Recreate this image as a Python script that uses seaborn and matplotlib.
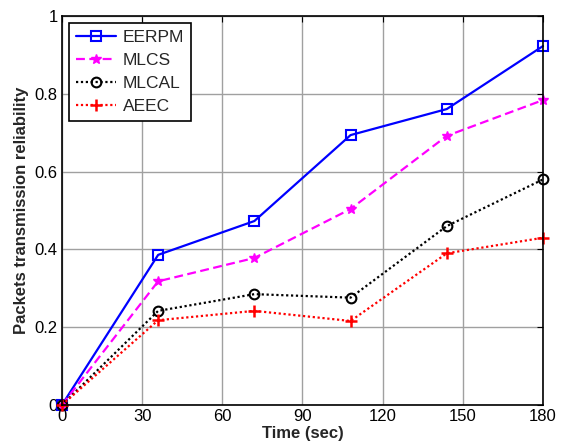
import matplotlib
matplotlib.use("Agg")
import matplotlib.pyplot as plt
import seaborn as sns
import pandas as pd

time = [0, 36, 72, 108, 144, 180]
eerpm = [0, 0.386, 0.473, 0.694, 0.761, 0.923]
mlcs = [0, 0.318, 0.378, 0.504, 0.692, 0.784]
mlcal = [0, 0.242, 0.285, 0.276, 0.460, 0.580]
aeec = [0, 0.218, 0.242, 0.216, 0.390, 0.430]
xticks = [0, 30, 60, 90, 120, 150, 180]
yticks = [0, 0.2, 0.4, 0.6, 0.8, 1.0]
ytick_labels = ["0", "0.2", "0.4", "0.6", "0.8", "1"]

sns.set_style("white")
plt.rcParams['font.family'] = ['Liberation Sans', 'DejaVu Sans']

fig = plt.figure(figsize=(5.63, 4.47), dpi=100)
ax = fig.add_axes([0.110, 0.094, 0.8545, 0.870])

series = [
    ("EERPM", eerpm, "#0000ff", "-", "s", dict(markerfacecolor="none", markersize=7, markeredgewidth=1.5)),
    ("MLCS", mlcs, "#ff00ff", (0, (4, 2)), "*", dict(markersize=7, markeredgewidth=1.0)),
    ("MLCAL", mlcal, "#000000", (0, (1, 1.2)), "o", dict(markerfacecolor="none", markersize=7, markeredgewidth=1.5)),
    ("AEEC", aeec, "#ff0000", (0, (1, 1.2)), "+", dict(markersize=9, markeredgewidth=1.8)),
]
for name, vals, col, ls, mk, kw in series:
    df = pd.DataFrame({"t": time, "v": vals})
    sns.lineplot(data=df, x="t", y="v", ax=ax, color=col, linestyle=ls, marker=mk,
                 linewidth=1.6, label=name, markeredgecolor=col, clip_on=False, **kw)

ax.set_xlim(0, 180)
ax.set_ylim(0, 1)
ax.set_xticks(xticks)
ax.set_xticklabels([str(t) for t in xticks])
ax.set_yticks(yticks)
ax.set_yticklabels(ytick_labels)
ax.grid(True, color="#a0a0a0", linewidth=1.0, linestyle="-")
ax.set_axisbelow(True)
for s in ax.spines.values():
    s.set_color("black")
    s.set_linewidth(1.2)
ax.tick_params(direction="in", length=4, labelsize=12, colors="black", top=True, right=True, pad=3)
ax.set_xlabel("Time (sec)", fontsize=12, fontweight="bold", labelpad=1)
ax.set_ylabel("Packets transmission reliability", fontsize=12, fontweight="bold", labelpad=4)

leg = ax.legend(loc="upper left", bbox_to_anchor=(0.0146, 0.982), borderaxespad=0,
                fontsize=12.5, frameon=True, fancybox=False, edgecolor="black", framealpha=1,
                handlelength=2.3, handletextpad=0.4, borderpad=0.4, labelspacing=0.45)
leg.get_frame().set_linewidth(1.2)

fig.savefig("out.png", dpi=100)
